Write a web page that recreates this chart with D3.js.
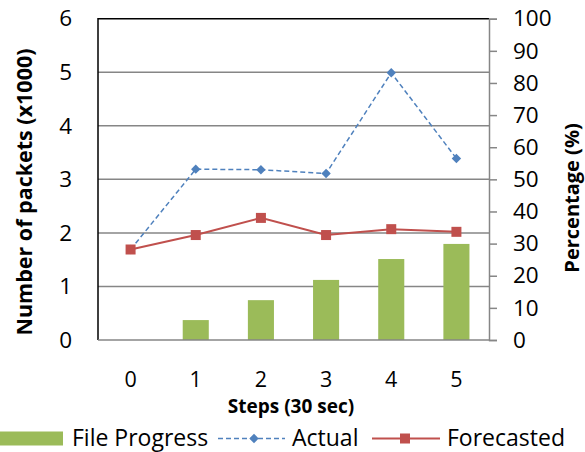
<!DOCTYPE html>
<html><head><meta charset="utf-8">
<script src="https://cdn.jsdelivr.net/npm/d3@7"></script>
<style>body{margin:0;background:#fff}svg{display:block}text{font-family:"Open Sans",sans-serif}</style>
</head><body>
<script>
const categories = [0, 1, 2, 3, 4, 5];
const fileProgress = [0, 6.2, 12.4, 18.7, 25.2, 29.9];
const actual = [1.69, 3.19, 3.18, 3.11, 4.99, 3.39];
const forecasted = [1.69, 1.96, 2.28, 1.96, 2.07, 2.02];
const leftTicks = [0, 1, 2, 3, 4, 5, 6];
const rightTicks = [0, 10, 20, 30, 40, 50, 60, 70, 80, 90, 100];
const seriesNames = ["File Progress", "Actual", "Forecasted"];
const colors = {bar: "#9BBB59", actual: "#4F81BD", fore: "#C0504D", grid: "#868686"};

const W = 585, H = 452;
const L = 98, R = 489, T = 18.7, B = 340;
const svg = d3.select("body").append("svg").attr("width", W).attr("height", H);

const x = d3.scaleBand().domain(categories).range([L, R]);
const yL = d3.scaleLinear().domain([0, 6]).range([B, T]);
const yR = d3.scaleLinear().domain([0, 100]).range([B, T]);
const cx = d => x(d) + x.bandwidth() / 2;

// gridlines
svg.append("g").selectAll("line").data(leftTicks.filter(t => t > 0 && t < 6)).join("line")
  .attr("x1", L).attr("x2", R).attr("y1", d => yL(d)).attr("y2", d => yL(d))
  .attr("stroke", colors.grid).attr("stroke-width", 1.5);

// bars
const bw = x.bandwidth() * 0.4;
svg.append("g").selectAll("rect").data(categories).join("rect")
  .attr("x", (d) => cx(d) - bw / 2).attr("width", bw)
  .attr("y", (d, i) => yR(fileProgress[i])).attr("height", (d, i) => B - yR(fileProgress[i]))
  .attr("fill", colors.bar);

// plot border top/left
svg.append("path").attr("d", `M${L},${B}V${T}H${R}`).attr("fill", "none").attr("stroke", "#000").attr("stroke-width", 1.5);

// lines
const line = d3.line().x((d, i) => cx(categories[i])).y(d => yL(d));
svg.append("path").datum(actual).attr("d", line).attr("fill", "none")
  .attr("stroke", colors.actual).attr("stroke-width", 1.5).attr("stroke-dasharray", "5,3");
svg.append("path").datum(forecasted).attr("d", line).attr("fill", "none")
  .attr("stroke", colors.fore).attr("stroke-width", 2);

svg.append("g").selectAll("path").data(actual).join("path")
  .attr("d", d3.symbol().type(d3.symbolSquare).size(44))
  .attr("transform", (d, i) => `translate(${cx(categories[i])},${yL(d)}) rotate(45)`)
  .attr("fill", colors.actual);
svg.append("g").selectAll("rect").data(forecasted).join("rect")
  .attr("x", (d, i) => cx(categories[i]) - 5).attr("y", d => yL(d) - 5)
  .attr("width", 10).attr("height", 10).attr("fill", colors.fore);

// axes
svg.append("line").attr("x1", L).attr("x2", R).attr("y1", B).attr("y2", B).attr("stroke", colors.grid).attr("stroke-width", 1.5);
const rAxis = svg.append("g").attr("transform", `translate(${R},0)`)
  .call(d3.axisRight(yR).tickValues(rightTicks).tickSize(8).tickPadding(16).tickFormat(d3.format("d")));
rAxis.select(".domain").attr("stroke", colors.grid).attr("stroke-width", 1.5);
rAxis.selectAll(".tick line").attr("stroke", colors.grid).attr("stroke-width", 1.5);
rAxis.selectAll("text").attr("font-size", 22.5).attr("font-family", "Open Sans").attr("fill", "#000");

const lAxis = svg.append("g").attr("transform", `translate(${L},0)`)
  .call(d3.axisLeft(yL).tickValues(leftTicks).tickSize(0).tickPadding(26).tickFormat(d3.format("d")));
lAxis.select(".domain").remove();
lAxis.selectAll("text").attr("font-size", 22.5).attr("font-family", "Open Sans").attr("fill", "#000");

const bAxis = svg.append("g").attr("transform", `translate(0,${B})`)
  .call(d3.axisBottom(x).tickSize(0).tickPadding(0).tickFormat(d3.format("d")));
bAxis.select(".domain").remove();
bAxis.selectAll("text").attr("font-size", 21.5).attr("font-family", "Open Sans").attr("fill", "#000")
  .attr("dy", null).attr("y", 47);

// titles
svg.append("text").attr("transform", `translate(32,192) rotate(-90)`).attr("text-anchor", "middle")
  .attr("font-size", 21.5).attr("font-weight", "bold").text("Number of packets (x1000)");
svg.append("text").attr("transform", `translate(579,198) rotate(-90)`).attr("text-anchor", "middle")
  .attr("font-size", 20).attr("font-weight", "bold").text("Percentage (%)");
svg.append("text").attr("x", 291).attr("y", 413).attr("text-anchor", "middle")
  .attr("font-size", 19).attr("font-weight", "bold").text("Steps (30 sec)");

// legend
const ly = 438.5;
svg.append("rect").attr("x", 0).attr("y", ly - 7).attr("width", 63).attr("height", 14).attr("fill", colors.bar);
svg.append("text").attr("x", 72).attr("y", ly + 7.5).attr("font-size", 23).text(seriesNames[0]);
svg.append("line").attr("x1", 218).attr("x2", 285).attr("y1", ly).attr("y2", ly)
  .attr("stroke", colors.actual).attr("stroke-width", 1.5).attr("stroke-dasharray", "5,3");
svg.append("path").attr("d", d3.symbol().type(d3.symbolSquare).size(44)).attr("transform", `translate(254,${ly}) rotate(45)`).attr("fill", colors.actual);
svg.append("text").attr("x", 292).attr("y", ly + 7.5).attr("font-size", 23).text(seriesNames[1]);
svg.append("line").attr("x1", 372).attr("x2", 440).attr("y1", ly).attr("y2", ly)
  .attr("stroke", colors.fore).attr("stroke-width", 2);
svg.append("rect").attr("x", 400).attr("y", ly - 5).attr("width", 10).attr("height", 10).attr("fill", colors.fore);
svg.append("text").attr("x", 447).attr("y", ly + 7.5).attr("font-size", 23).text(seriesNames[2]);
</script>
</body></html>
